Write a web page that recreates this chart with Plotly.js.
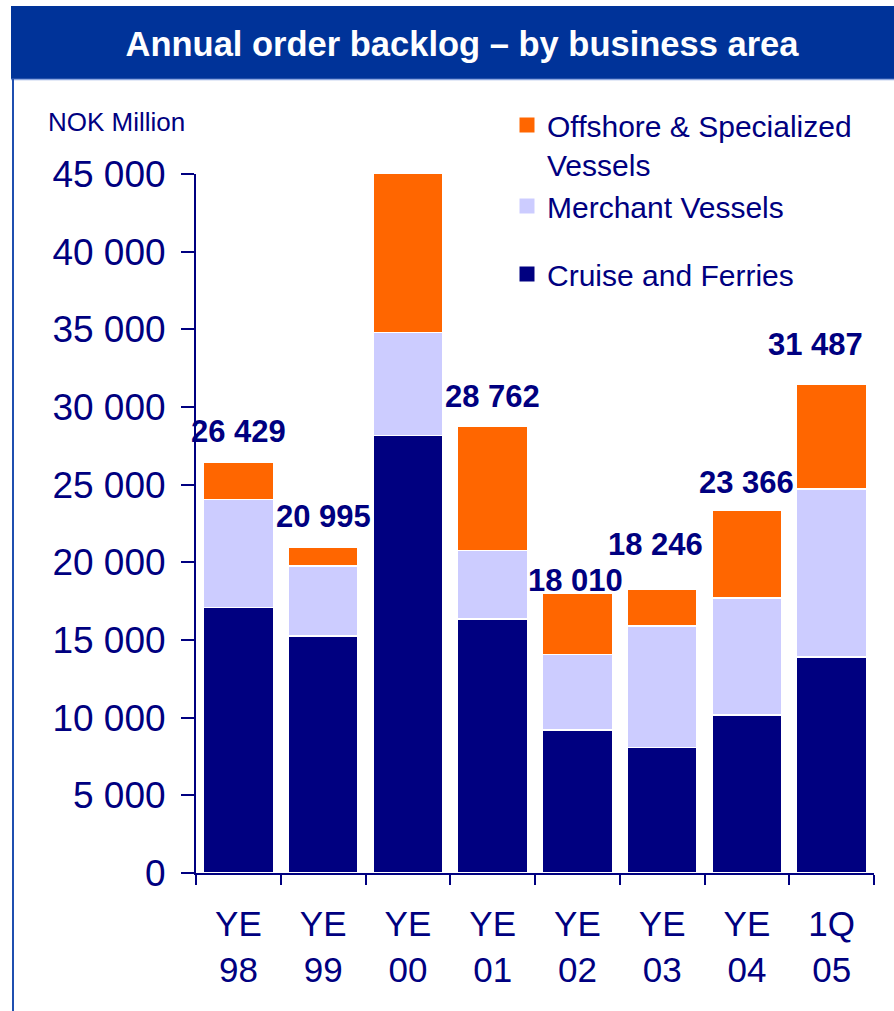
<!DOCTYPE html>
<html>
<head>
<meta charset="utf-8">
<script src="https://cdn.plot.ly/plotly-3.0.1.min.js"></script>
<style>html,body{margin:0;padding:0;background:#fff;overflow:hidden;}#chart{width:894px;height:1011px;}</style>
</head>
<body>
<div id="chart"></div>
<script>
// Data (NOK million)
const categories = ["YE<br>98", "YE<br>99", "YE<br>00", "YE<br>01", "YE<br>02", "YE<br>03", "YE<br>04", "1Q<br>05"];
const cruiseFerries = [17100, 15260, 28150, 16350, 9210, 8090, 10170, 13910];
const merchantVessels = [6930, 4520, 6660, 4400, 4870, 7810, 7550, 10820];
const offshoreSpecialized = [2399, 1215, 10217, 8012, 3930, 2346, 5646, 6757];
const totals = [26429, 20995, 45027, 28762, 18010, 18246, 23366, 31487];
const yTickValues = [0, 5000, 10000, 15000, 20000, 25000, 30000, 35000, 40000, 45000];

// label placement tweaks (pixels), as in the original slide
const labelShiftY = [31, 30, 31, 30, 13, 45, 28, 39];
const labelShiftX = [0, 0, 0, 0, -2, -7, 0, -16];

const NAVY = "#000080";
const FONT = "Liberation Sans, Arial, Helvetica, sans-serif";
const COLORS = {cruise: "#000080", merchant: "#CCCCFF", offshore: "#FF6600"};

function fmt(n) { return String(n).replace(/\B(?=(\d{3})+(?!\d))/g, " "); }

const barLine = {color: "#ffffff", width: 1.5};
const traces = [
  {type: "bar", name: "Cruise and Ferries", x: categories, y: cruiseFerries,
   marker: {color: COLORS.cruise, line: barLine}, showlegend: false},
  {type: "bar", name: "Merchant Vessels", x: categories, y: merchantVessels,
   marker: {color: COLORS.merchant, line: barLine}, showlegend: false},
  {type: "bar", name: "Offshore & Specialized Vessels", x: categories, y: offshoreSpecialized,
   marker: {color: COLORS.offshore, line: barLine}, showlegend: false},
  // legend entries (square keys)
  {type: "scatter", mode: "markers", x: [null], y: [null], name: "Cruise and Ferries",
   marker: {symbol: "square", size: 15, color: COLORS.cruise}, legendgroup: "b", legendrank: 3},
  {type: "scatter", mode: "markers", x: [null], y: [null], name: "Merchant Vessels",
   marker: {symbol: "square", size: 15, color: COLORS.merchant}, legendgroup: "a", legendrank: 2},
  {type: "scatter", mode: "markers", x: [null], y: [null], name: "Offshore & Specialized<br>Vessels",
   marker: {symbol: "square", size: 15, color: COLORS.offshore}, legendgroup: "a", legendrank: 1}
];

const annotations = categories.map((c, i) => ({
  x: c, y: totals[i], xref: "x", yref: "y", text: "<b>" + fmt(totals[i]) + "</b>",
  showarrow: false, yanchor: "middle", yshift: labelShiftY[i], xshift: labelShiftX[i],
  font: {family: FONT, size: 31, color: NAVY}
}));
annotations.push({
  xref: "paper", yref: "paper", x: (46 - 196) / 678, y: (873 - 122) / 699,
  xanchor: "left", yanchor: "middle", showarrow: false, text: "NOK Million",
  font: {family: FONT, size: 26, color: NAVY}
});

const layout = {
  width: 894, height: 1011,
  margin: {l: 196, r: 20, t: 174, b: 138, pad: 0},
  paper_bgcolor: "#ffffff", plot_bgcolor: "#ffffff",
  barmode: "stack", bargap: 0.175,
  separators: ", ",
  title: {
    text: "<b>Annual order backlog – by business area</b>",
    font: {family: FONT, size: 34.5, color: "#ffffff"},
    xref: "container", x: 462 / 894, xanchor: "center",
    yref: "container", y: 1 - 44 / 1011, yanchor: "middle"
  },
  xaxis: {
    type: "category", range: [-0.5, 7.5], autorange: false, tickson: "boundaries",
    ticks: "outside", ticklen: 10, tickwidth: 2,
    tickcolor: NAVY, showline: true, linecolor: NAVY, linewidth: 2, showgrid: false,
    tickfont: {family: FONT, size: 35, color: NAVY}, ticklabelstandoff: 19, fixedrange: true,
    automargin: false
  },
  yaxis: {
    range: [0, 45000], autorange: false, tickvals: yTickValues, tickformat: ",d", ticks: "outside", ticklen: 13,
    tickwidth: 2, tickcolor: NAVY, showline: true, linecolor: NAVY, linewidth: 2,
    showgrid: false, zeroline: false, tickfont: {family: FONT, size: 37, color: NAVY},
    ticklabelstandoff: 8, fixedrange: true, automargin: false
  },
  legend: {
    x: (507 - 196) / 678, xanchor: "left", y: (873 - 99) / 699, yanchor: "top",
    traceorder: "grouped", tracegroupgap: 26, valign: "top", itemsizing: "trace",
    font: {family: FONT, size: 30, color: NAVY}, bgcolor: "rgba(0,0,0,0)", borderwidth: 0
  },
  annotations: annotations,
  shapes: [
    {type: "rect", xref: "paper", yref: "paper", x0: (11 - 196) / 678, x1: (900 - 196) / 678,
     y0: (873 - 79) / 699, y1: (873 - 6) / 699, fillcolor: "#003399", line: {width: 0}, layer: "below"},
    {type: "line", xref: "paper", yref: "paper", x0: (11 - 196) / 678, x1: (900 - 196) / 678,
     y0: (873 - 79.5) / 699, y1: (873 - 79.5) / 699, line: {color: "#8fa8e0", width: 1.5}},
    {type: "line", xref: "paper", yref: "paper", x0: (13 - 196) / 678, x1: (13 - 196) / 678,
     y0: (873 - 1015) / 699, y1: (873 - 79) / 699, line: {color: "#1f4fb0", width: 2}}
  ],
  hovermode: false
};

Plotly.newPlot("chart", traces, layout, {displayModeBar: false, staticPlot: true});
</script>
</body>
</html>
